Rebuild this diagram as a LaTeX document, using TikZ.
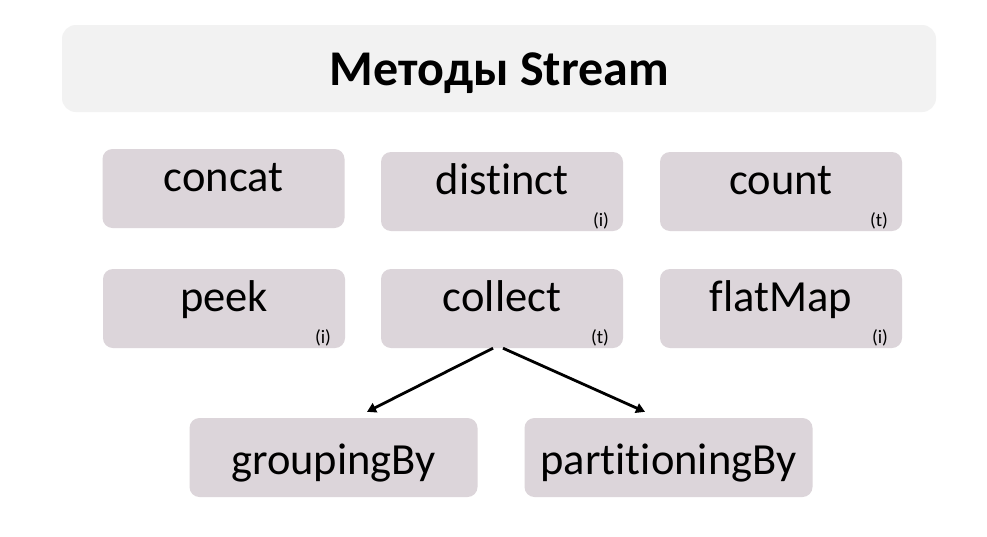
\documentclass[tikz,border=0pt]{standalone}
\usepackage{fontspec}
\setmainfont[RawFeature={-liga,-clig,-calt,-dlig}]{Carlito}
\usetikzlibrary{arrows.meta}
\definecolor{boxfill}{HTML}{DCD5DA}
\definecolor{titlefill}{HTML}{F2F2F2}
\tikzset{
  titlebox/.style={fill=titlefill, rounded corners=14pt, minimum width=874pt, minimum height=87pt,
    inner sep=0pt, font=\fontsize{50}{52}\selectfont\bfseries, text height=40pt, text depth=7pt},
  method/.style={fill=boxfill, rounded corners=10pt, minimum width=242pt, minimum height=79pt,
    inner sep=0pt, font=\fontsize{44.5}{46}\selectfont, text height=30pt, text depth=25pt},
  lowbox/.style={fill=boxfill, rounded corners=10pt, minimum width=288pt, minimum height=79pt,
    inner sep=0pt, font=\fontsize{44.5}{46}\selectfont, text height=40pt, text depth=7pt},
  tag/.style={inner sep=0pt, anchor=base east, font=\fontsize{19}{20}\selectfont},
  conn/.style={line width=2.8pt, -{Triangle[length=9pt,width=10pt]}}
}
\begin{document}
\begin{tikzpicture}[x=1pt,y=-1pt]
\useasboundingbox[fill=white] (0,0) rectangle (987,536);
\node[titlebox] (title) at (499,68.5) {Методы Stream};
\node[method] (concat) at (223.5,188.5) {concat};
\node[method] (distinct) at (502,191.5) {distinct};
\node[method] (count) at (781,191.5) {count};
\node[method] (peek) at (224,308.5) {peek};
\node[method] (collect) at (502,308.5) {collect};
\node[method] (flatmap) at (781,308.5) {f\kern0ptlatMap};
\node[lowbox] (grouping) at (333.5,457.5) {groupingBy};
\node[lowbox] (partitioning) at (668.5,457.5) {part\kern0ptit\kern0ptioningBy};
\node[tag] (tdistinct) at ([xshift=-14pt,yshift=5pt]distinct.south east) {(i)};
\node[tag] (tcount) at ([xshift=-14pt,yshift=5pt]count.south east) {(t)};
\node[tag] (tpeek) at ([xshift=-14pt,yshift=5pt]peek.south east) {(i)};
\node[tag] (tcollect) at ([xshift=-14pt,yshift=5pt]collect.south east) {(t)};
\node[tag] (tflatmap) at ([xshift=-14pt,yshift=5pt]flatmap.south east) {(i)};
\coordinate (c1) at ([xshift=-9pt]collect.south);
\coordinate (c2) at ([xshift=1pt]collect.south);
\coordinate (g1) at ([xshift=33.5pt,yshift=6pt]grouping.north);
\coordinate (p1) at ([xshift=-23.5pt,yshift=6pt]partitioning.north);
\draw[conn] (c1) -- (g1);
\draw[conn] (c2) -- (p1);
\end{tikzpicture}
\end{document}
